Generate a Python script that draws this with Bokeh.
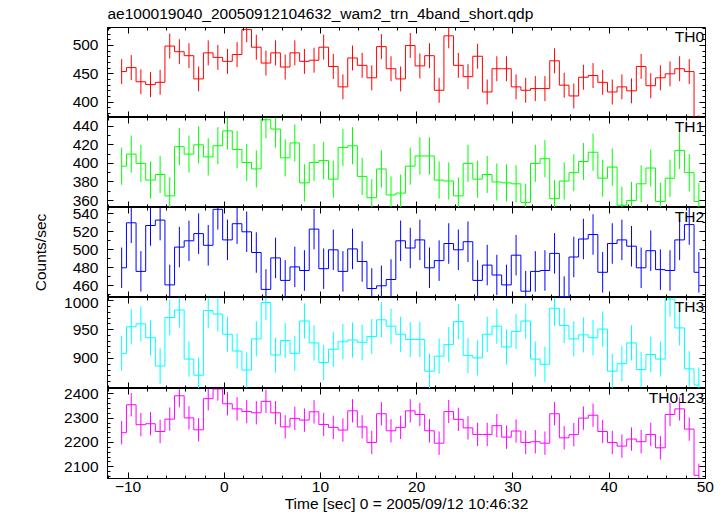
from bokeh.plotting import figure
from bokeh.models import LinearAxis, SingleIntervalTicker, FixedTicker, Range1d, Label, ColumnDataSource
from bokeh.layouts import column
from bokeh.embed import file_html
from bokeh.resources import INLINE

title_text = "ae100019040_20050912104632_wam2_trn_4band_short.qdp"
x_label = "Time [sec] 0 = 2005/09/12 10:46:32"
y_label = "Counts/sec"

# time bins (1 s wide), first bin centre
t_first_center = -10.67
bin_width = 1.0

th0 = [454, 461, 436, 431, 435, 499, 489, 482, 441, 487, 479, 472, 484, 528, 497, 469,
       487, 462, 487, 472, 474, 497, 463, 427, 478, 465, 443, 498, 459, 441, 500, 464,
       482, 421, 517, 465, 445, 481, 418, 459, 459, 427, 421, 424, 424, 473, 430, 411,
       444, 447, 435, 418, 427, 420, 463, 429, 443, 450, 459, 454, 355]
th1 = [397, 410, 400, 382, 388, 365, 418, 410, 420, 407, 419, 435, 415, 401, 394, 447,
       437, 406, 422, 379, 401, 403, 383, 417, 419, 386, 363, 394, 366, 368, 397, 408,
       408, 382, 381, 365, 400, 383, 388, 380, 379, 378, 358, 400, 405, 362, 381, 390,
       402, 412, 384, 396, 355, 360, 378, 395, 359, 384, 414, 390, 359]
th2 = [480, 530, 476, 527, 533, 461, 503, 510, 518, 505, 545, 511, 529, 520, 497, 456,
       491, 466, 481, 477, 523, 479, 500, 476, 501, 487, 457, 460, 467, 510, 502, 511,
       480, 488, 507, 500, 509, 466, 483, 472, 461, 494, 454, 476, 477, 496, 448, 492,
       512, 517, 475, 507, 511, 504, 480, 499, 478, 477, 511, 528, 475]
th3 = [909, 955, 960, 936, 887, 971, 984, 899, 871, 983, 977, 942, 913, 880, 934, 997,
       906, 931, 909, 965, 927, 893, 916, 929, 932, 928, 938, 967, 956, 942, 933, 933,
       878, 904, 924, 964, 905, 901, 942, 956, 920, 947, 965, 899, 890, 987, 957, 934,
       941, 936, 951, 878, 891, 927, 881, 907, 899, 1003, 953, 882, 854]
th0123 = [2240, 2355, 2273, 2277, 2245, 2296, 2392, 2301, 2252, 2380, 2420, 2359, 2338,
          2327, 2322, 2369, 2322, 2264, 2299, 2292, 2326, 2274, 2262, 2251, 2330, 2264,
          2200, 2318, 2248, 2262, 2330, 2315, 2248, 2197, 2327, 2295, 2260, 2233, 2233,
          2269, 2222, 2247, 2200, 2203, 2197, 2318, 2219, 2232, 2300, 2312, 2245, 2200,
          2185, 2214, 2203, 2233, 2178, 2315, 2338, 2255, 2065]

panel_names = ["TH0", "TH1", "TH2", "TH3", "TH0123"]
panel_values = [th0, th1, th2, th3, th0123]
panel_colors = ["#ff0000", "#00ff00", "#0000ff", "#00ffff", "#ff00ff"]
panel_errors = [22, 20, 22.5, 30.5, 48]          # half-length of the error bars
y_ranges = [(373.0, 531.7), (352.5, 449.4), (447.0, 547.0), (848.0, 1005.7), (2051.9, 2421.8)]
y_tick_labels = [[400, 450, 500],
                 [360, 380, 400, 420, 440],
                 [460, 480, 500, 520, 540],
                 [900, 950, 1000],
                 [2100, 2200, 2300, 2400]]
y_minor_step = [10, 10, 10, 10, 20]
frame_heights = [90, 90, 90, 91, 90]
x_range = (-12.14, 50.02)

FONT = "Liberation Sans"
FS = "15.5px"


def tick_axis(ticker, show_labels, fixed=None, **kw):
    ax = LinearAxis(ticker=ticker, major_tick_in=6, major_tick_out=0,
                    minor_tick_in=3, minor_tick_out=0,
                    axis_line_color="black", major_tick_line_color="black",
                    minor_tick_line_color="black",
                    major_label_text_font=FONT,
                    **kw)
    if show_labels:
        ax.major_label_text_font_size = FS
        ax.major_label_text_color = "black"
    else:
        ax.major_label_text_color = None
        ax.fixed_location = fixed
    return ax


figs = []
n = len(panel_names)
for i in range(n):
    vals = panel_values[i]
    err = panel_errors[i]
    lo_r, hi_r = y_ranges[i]
    t = [t_first_center + k * bin_width for k in range(len(vals))]
    src = ColumnDataSource(dict(t=t, rate=vals,
                                lo=[v - err for v in vals],
                                hi=[v + err for v in vals]))
    last = (i == n - 1)
    p = figure(frame_width=598, frame_height=frame_heights[i],
               x_range=Range1d(*x_range), y_range=Range1d(lo_r, hi_r),
               output_backend="svg", toolbar_location=None,
               x_axis_location=None, y_axis_location=None,
               min_border_left=107, min_border_right=12,
               min_border_top=27 if i == 0 else 0,
               min_border_bottom=0)
    p.xgrid.visible = False
    p.ygrid.visible = False
    p.outline_line_color = "black"
    p.background_fill_color = "white"
    p.border_fill_color = "white"

    if i == 0:
        p.title.text = title_text
        p.title.text_font = FONT
        p.title.text_font_size = FS
        p.title.text_font_style = "normal"
        p.title.text_color = "black"
        p.title.align = "left"
        p.title.vertical_align = "top"
        p.title.offset = 0
        p.title.standoff = 7

    p.step("t", "rate", source=src, mode="center", line_color=panel_colors[i], line_width=1)
    p.segment(x0="t", y0="lo", x1="t", y1="hi", source=src,
              line_color=panel_colors[i], line_width=1)

    def xt():
        return SingleIntervalTicker(interval=10, num_minor_ticks=5)

    step = y_minor_step[i]
    minor = [v for v in range(int(lo_r) - int(lo_r) % step, int(hi_r) + step, step)
             if lo_r <= v <= hi_r]

    def yt():
        return FixedTicker(ticks=y_tick_labels[i], minor_ticks=minor)

    left = tick_axis(yt(), True, major_label_standoff=9)
    if i == 2:
        left.axis_label = y_label
        left.axis_label_text_font = FONT
        left.axis_label_text_font_size = FS
        left.axis_label_text_font_style = "normal"
        left.axis_label_text_color = "black"
        left.axis_label_standoff = 21
    p.add_layout(left, "left")
    p.add_layout(tick_axis(yt(), False, fixed=x_range[1]), "right")
    p.add_layout(tick_axis(xt(), False, fixed=hi_r), "above")
    if last:
        bottom = tick_axis(xt(), True, major_label_standoff=3)
        bottom.major_label_overrides = {-10: "\u221210"}
        bottom.axis_label = x_label
        bottom.axis_label_text_font = FONT
        bottom.axis_label_text_font_size = FS
        bottom.axis_label_text_font_style = "normal"
        bottom.axis_label_text_color = "black"
        bottom.axis_label_standoff = 0
        p.add_layout(bottom, "below")
    else:
        p.add_layout(tick_axis(xt(), False, fixed=lo_r), "below")

    p.add_layout(Label(x=x_range[1], y=hi_r, x_offset=-1.5, y_offset=-9,
                       text=panel_names[i], text_align="right", text_baseline="alphabetic",
                       text_font=FONT, text_font_size=FS, text_color="black"))
    figs.append(p)

layout = column(*figs, spacing=0)
open("out.html", "w").write(file_html(layout, INLINE))
